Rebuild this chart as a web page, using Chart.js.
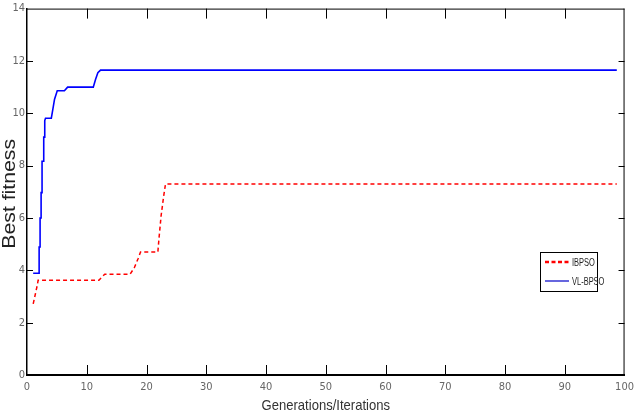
<!DOCTYPE html>
<html>
<head>
<meta charset="utf-8">
<script src="https://cdn.jsdelivr.net/npm/chart.js@4.4.1/dist/chart.umd.min.js"></script>
<style>
  html, body { margin: 0; padding: 0; background: #fff; }
  #wrap { width: 640px; height: 414px; position: relative; }
</style>
</head>
<body>
<div id="wrap"><canvas id="c"></canvas></div>
<script>
// ---- data ----
const seriesNames = ['IBPSO', 'VL-BPSO'];
const ibpsoX = [1.04, 1.7, 1.86, 12.03, 12.57, 13.01, 17.25, 17.96, 18.62, 19.0, 21.9, 22.08, 22.45, 22.85, 23.18, 98.7];
const ibpsoY = [2.72, 3.41, 3.62, 3.62, 3.75, 3.85, 3.85, 4.1, 4.46, 4.7, 4.7, 5.2, 6.1, 6.8, 7.3, 7.3];
const vlbpsoX = [1.03, 2.03, 2.03, 2.19, 2.19, 2.36, 2.36, 2.52, 2.52, 2.8, 2.8, 2.97, 2.97, 3.1, 4.07, 4.33, 4.61, 5.06, 6.26, 6.8, 11.09, 11.48, 11.86, 12.31, 98.7];
const vlbpsoY = [3.89, 3.89, 4.89, 4.89, 6.0, 6.0, 6.97, 6.97, 8.17, 8.17, 9.09, 9.09, 9.72, 9.81, 9.81, 10.16, 10.54, 10.86, 10.86, 11.0, 11.0, 11.3, 11.55, 11.65, 11.65];
const xTicks = [0, 10, 20, 30, 40, 50, 60, 70, 80, 90, 100];
const yTicks = [0, 2, 4, 6, 8, 10, 12, 14];
const xTitle = 'Generations/Iterations';
const yTitle = 'Best fitness';

const toPts = (xs, ys) => xs.map((x, i) => ({ x: x, y: ys[i] }));
const NARROW = "'DejaVu Sans Condensed', 'Liberation Sans Narrow', 'Liberation Sans', sans-serif";
const SANS = "'Liberation Sans', Arial, sans-serif";

const framePlugin = {
  id: 'frame',
  afterDraw(chart) {
    const { ctx, chartArea: a, scales } = chart;
    const xs = scales.x, ys = scales.y;
    ctx.save();
    ctx.strokeStyle = '#000';
    ctx.lineWidth = 1;
    ctx.setLineDash([]);
    ctx.beginPath();
    ctx.moveTo(a.left, a.top + 0.5); ctx.lineTo(a.right, a.top + 0.5);
    ctx.moveTo(a.right - 0.5, a.top); ctx.lineTo(a.right - 0.5, a.bottom);
    xs.ticks.forEach(t => {
      if (t.value <= xs.min || t.value >= xs.max) return;
      const px = Math.round(xs.getPixelForValue(t.value)) + 0.5;
      ctx.moveTo(px, a.bottom); ctx.lineTo(px, a.bottom - 10);
      ctx.moveTo(px, a.top); ctx.lineTo(px, a.top + 10);
    });
    ys.ticks.forEach(t => {
      if (t.value <= ys.min || t.value >= ys.max) return;
      const py = Math.round(ys.getPixelForValue(t.value)) + 0.5;
      ctx.moveTo(a.left, py); ctx.lineTo(a.left + 6, py);
      ctx.moveTo(a.right, py); ctx.lineTo(a.right - 6, py);
    });
    ctx.stroke();

    // y-axis title (stretched along its length, as in the reference)
    ctx.save();
    ctx.fillStyle = '#222';
    ctx.font = "18px " + SANS;
    ctx.textAlign = 'center';
    ctx.textBaseline = 'alphabetic';
    ctx.translate(15, (a.top + a.bottom) / 2 + 2);
    ctx.rotate(-Math.PI / 2);
    ctx.scale(1.18, 1);
    ctx.fillText(yTitle, 0, 0);
    ctx.restore();

    // x-axis title (condensed, as in the reference)
    ctx.save();
    ctx.fillStyle = '#333';
    ctx.font = "15px " + SANS;
    ctx.textAlign = 'center';
    ctx.textBaseline = 'alphabetic';
    ctx.translate((a.left + a.right) / 2, 410);
    ctx.scale(0.87, 1);
    ctx.fillText(xTitle, 0, 0);
    ctx.restore();

    // legend box
    const bx = 540.5, by = 252.5, bw = 57, bh = 39;
    ctx.strokeStyle = '#000';
    ctx.lineWidth = 1;
    ctx.strokeRect(bx, by, bw, bh);
    const ds = chart.data.datasets;
    const rows = [262, 281];
    ds.forEach((d, i) => {
      const yy = rows[i];
      ctx.save();
      ctx.strokeStyle = i === 0 ? '#ff0000' : '#0000c8';
      ctx.lineWidth = i === 0 ? 2.5 : 1.2;
      ctx.setLineDash(i === 0 ? [4, 2.5] : []);
      ctx.beginPath();
      ctx.moveTo(545, yy); ctx.lineTo(569, yy);
      ctx.stroke();
      ctx.restore();
      ctx.save();
      ctx.fillStyle = '#222';
      ctx.font = "11px " + SANS;
      ctx.textAlign = 'left';
      ctx.textBaseline = 'middle';
      ctx.translate(572, yy + 1);
      ctx.scale(0.68, 1);
      ctx.fillText(d.label, 0, 0);
      ctx.restore();
    });
    ctx.restore();
  }
};

new Chart(document.getElementById('c'), {
  type: 'line',
  data: {
    datasets: [
      {
        label: seriesNames[0],
        data: toPts(ibpsoX, ibpsoY),
        borderColor: '#ff0000',
        borderWidth: 1.5,
        borderDash: [4, 3],
        pointRadius: 0,
        tension: 0,
        fill: false
      },
      {
        label: seriesNames[1],
        data: toPts(vlbpsoX, vlbpsoY),
        borderColor: '#0000ff',
        borderWidth: 1.6,
        pointRadius: 0,
        tension: 0,
        fill: false
      }
    ]
  },
  options: {
    responsive: true,
    maintainAspectRatio: false,
    animation: false,
    layout: { padding: { top: 5, right: 6, left: 0, bottom: 0 } },
    plugins: { legend: { display: false }, tooltip: { enabled: false } },
    scales: {
      x: {
        type: 'linear',
        min: 0, max: 100,
        afterBuildTicks: s => { s.ticks = xTicks.map(v => ({ value: v })); },
        afterFit: s => { s.height = 39; },
        grid: { display: false, drawTicks: false },
        border: { display: true, color: '#000', width: 2 },
        ticks: { padding: 6, color: '#666', font: { family: NARROW, size: 11 }, maxRotation: 0, autoSkip: false },
        title: { display: false, text: xTitle }
      },
      y: {
        type: 'linear',
        min: 0, max: 14,
        afterBuildTicks: s => { s.ticks = yTicks.map(v => ({ value: v })); },
        afterFit: s => { s.width = 27; },
        grid: { display: false, drawTicks: false },
        border: { display: true, color: '#000', width: 1.5 },
        ticks: { padding: 2, color: '#666', font: { family: NARROW, size: 11 }, autoSkip: false },
        title: { display: false, text: yTitle }
      }
    }
  },
  plugins: [framePlugin]
});
</script>
</body>
</html>
